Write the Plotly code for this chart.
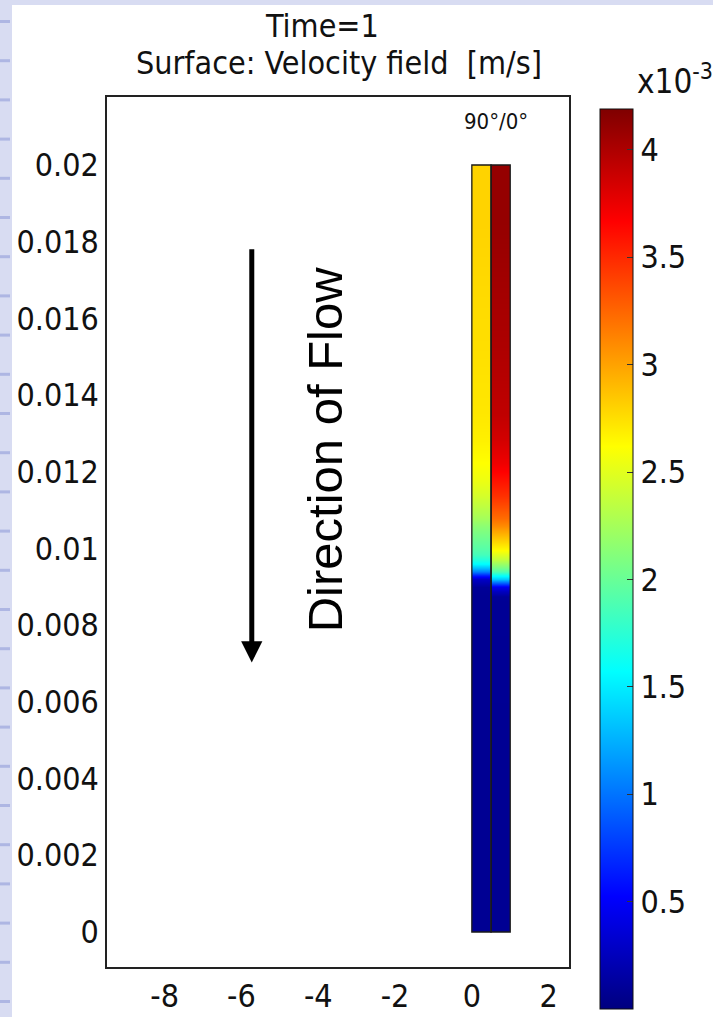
import plotly.graph_objects as go

# ---------------- data ----------------
# row edges along the channel (m)
y_edges = [0.0, 0.0086, 0.0089, 0.0091, 0.0093, 0.0095, 0.0097, 0.0100,
           0.0104, 0.0108, 0.0114, 0.0122, 0.0135, 0.0170, 0.0200]
# velocity magnitude (x10^-3 m/s), one value per row (bottom -> top)
left_strip = [0.08, 0.08, 0.10, 0.30, 1.05, 1.55, 1.85, 2.00, 2.15, 2.35, 2.55, 2.68, 2.75, 2.80]
right_strip = [0.08, 0.10, 0.45, 1.35, 1.90, 2.20, 2.50, 2.80, 3.10, 3.35, 3.60, 3.85, 4.00, 4.10]
left_x_edges = [0.0, 0.25, 0.5]
right_x_edges = [0.5, 0.75, 1.0]

x_tick_vals = [-8, -6, -4, -2, 0, 2]
x_tick_text = ["-8", "-6", "-4", "-2", "0", "2"]
y_tick_vals = [0, 0.002, 0.004, 0.006, 0.008, 0.01, 0.012, 0.014, 0.016, 0.018, 0.02]
y_tick_text = ["0", "0.002", "0.004", "0.006", "0.008", "0.01", "0.012", "0.014", "0.016", "0.018", "0.02"]
cb_tick_vals = [0.5, 1, 1.5, 2, 2.5, 3, 3.5, 4]
cb_tick_text = ["0.5", "1", "1.5", "2", "2.5", "3", "3.5", "4"]
c_min, c_max = 0.0, 4.19

x_range = [-9.5, 2.53]
y_range = [-0.000913, 0.021773]

flow_arrow_x = -5.73
flow_arrow_from, flow_arrow_to = 0.01784, 0.00703
flow_label_x, flow_label_y = -3.83, 0.01258

# --------------- layout geometry (px) ---------------
W, H = 713, 1017
L, R, T, B = 107, 144, 97, 50
pw, ph = W - L - R, H - T - B


def px_x(p):
    return (p - L) / pw


def px_y(p):
    return (H - B - p) / ph


jet = [[0.0, "#00007F"], [0.125, "#0000FF"], [0.375, "#00FFFF"],
       [0.625, "#FFFF00"], [0.875, "#FF0000"], [1.0, "#7F0000"]]

font_main = "DejaVu Sans Condensed, Liberation Sans Narrow, sans-serif"
TICK = 32

fig = go.Figure()
for xe, vals in [(left_x_edges, left_strip), (right_x_edges, right_strip)]:
    z = [[v] * (len(xe) - 1) for v in vals]
    fig.add_trace(go.Heatmap(x=xe, y=y_edges, z=z, coloraxis="coloraxis",
                             zsmooth="best", hoverinfo="skip"))

shapes = []
# lavender slide background band + white panel
shapes.append(dict(type="rect", xref="paper", yref="paper", layer="below",
                   x0=px_x(12), x1=px_x(W + 5), y0=px_y(H + 5), y1=px_y(5),
                   fillcolor="white", line=dict(width=0)))
for k in range(26):
    yy = 20 + 39.2 * k
    shapes.append(dict(type="rect", xref="paper", yref="paper", layer="below",
                       x0=px_x(0), x1=px_x(10), y0=px_y(yy + 3), y1=px_y(yy),
                       fillcolor="#AEB6E3", line=dict(width=0)))
# strip outlines
for xe in (left_x_edges, right_x_edges):
    shapes.append(dict(type="rect", xref="x", yref="y", x0=xe[0], x1=xe[-1],
                       y0=y_edges[0], y1=y_edges[-1],
                       line=dict(color="#1a1a1a", width=1.3)))

annotations = [
    dict(text="Time=1", xref="paper", yref="paper", x=px_x(322), y=px_y(26),
         yanchor="middle", showarrow=False,
         font=dict(family=font_main, size=32, color="#111")),
    dict(text="Surface: Velocity field  [m/s]", xref="paper", yref="paper",
         x=px_x(339), y=px_y(63), yanchor="middle", showarrow=False,
         font=dict(family=font_main, size=32, color="#111")),
    dict(text="x10<sup>-3</sup>", xref="paper", yref="paper", x=px_x(635), y=px_y(103),
         xanchor="left", yanchor="bottom", showarrow=False,
         font=dict(family=font_main, size=33, color="#111")),
    dict(text="90°/0°", xref="x", yref="paper", x=0.62, y=px_y(121),
         yanchor="middle", showarrow=False,
         font=dict(family=font_main, size=22, color="#111")),
    dict(text="", x=flow_arrow_x, y=flow_arrow_to, ax=flow_arrow_x, ay=flow_arrow_from,
         xref="x", yref="y", axref="x", ayref="y", showarrow=True,
         arrowhead=2, arrowsize=0.85, arrowwidth=5, arrowcolor="black"),
    dict(text="Direction of Flow", xref="x", yref="y", x=flow_label_x, y=flow_label_y,
         textangle=-90, showarrow=False,
         font=dict(family="Liberation Sans, Arial, sans-serif", size=49, color="black")),
]

fig.update_layout(
    width=W, height=H, autosize=False,
    margin=dict(l=L, r=R, t=T, b=B, autoexpand=False),
    paper_bgcolor="#D8DCF2", plot_bgcolor="white",
    showlegend=False,
    shapes=shapes, annotations=annotations,
    coloraxis=dict(
        colorscale=jet, cmin=c_min, cmax=c_max,
        colorbar=dict(
            thickness=33, thicknessmode="pixels",
            len=900, lenmode="pixels",
            x=px_x(600), xanchor="left", xpad=0,
            y=px_y(109), yanchor="top", ypad=0,
            outlinewidth=1, outlinecolor="#111",
            tickvals=cb_tick_vals, ticktext=cb_tick_text,
            ticks="inside", ticklen=6, tickcolor="#333",
            tickfont=dict(family=font_main, size=TICK, color="#111"),
        ),
    ),
    xaxis=dict(range=x_range, tickvals=x_tick_vals, ticktext=x_tick_text,
               showgrid=False, zeroline=False, showline=True, mirror=True,
               linecolor="#222", linewidth=1.5, ticks="", ticklabelstandoff=0,
               tickfont=dict(family=font_main, size=TICK, color="#111")),
    yaxis=dict(range=y_range, tickvals=y_tick_vals, ticktext=y_tick_text,
               showgrid=False, zeroline=False, showline=True, mirror=True,
               linecolor="#222", linewidth=1.5, ticks="", ticklabelstandoff=0,
               tickfont=dict(family=font_main, size=TICK, color="#111")),
)

fig.write_html("out.html")
